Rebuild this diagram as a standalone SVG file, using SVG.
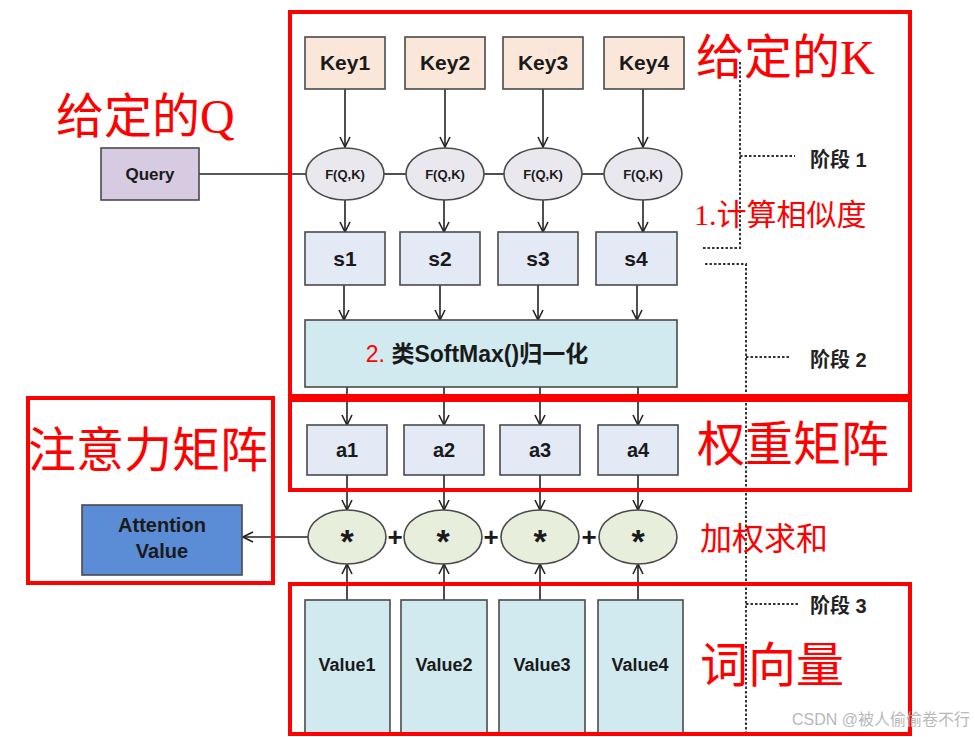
<svg xmlns="http://www.w3.org/2000/svg" width="975" height="737" viewBox="0 0 975 737">
<defs>
<marker id="arr" viewBox="0 0 12 12" refX="11" refY="6" markerWidth="12" markerHeight="12" markerUnits="userSpaceOnUse" orient="auto">
<path d="M1,1 L11,6 L1,11" fill="none" stroke="#222" stroke-width="1.6"/>
</marker>
<style>
.box{stroke:#4a4a4a;stroke-width:1.6}
.key{fill:#fbe7d9}
.sb{fill:#e3e9f5}
.cy{fill:#d0eaef}
.fe{fill:#e9e8ef;stroke:#4a4a4a;stroke-width:1.6}
.me{fill:#e7eedb;stroke:#4a4a4a;stroke-width:1.6}
.t{font-family:"Liberation Sans","Noto Sans CJK SC",sans-serif;font-weight:bold;fill:#1a1a1a;text-anchor:middle;dominant-baseline:central}
.red{fill:none;stroke:#ff0000;stroke-width:4}
.rt{font-family:"Liberation Serif","Noto Sans CJK SC",serif;fill:#ff0000}
.ln{stroke:#222;stroke-width:1.6;fill:none}
.dot{stroke:#333;stroke-width:2;stroke-dasharray:2.5 2;fill:none}
.st{font-family:"Liberation Sans","Noto Sans CJK SC",sans-serif;font-weight:bold;fill:#222;font-size:20px}
</style>
</defs>
<rect width="975" height="737" fill="#ffffff"/>

<g id="connectors">
<line class="ln" x1="345" y1="89" x2="345" y2="147" marker-end="url(#arr)"/>
<line class="ln" x1="445" y1="89" x2="445" y2="147" marker-end="url(#arr)"/>
<line class="ln" x1="543" y1="89" x2="543" y2="147" marker-end="url(#arr)"/>
<line class="ln" x1="643" y1="89" x2="643" y2="147" marker-end="url(#arr)"/>
<line class="ln" x1="199" y1="174" x2="306" y2="174"/>
<line class="ln" x1="384" y1="174" x2="406" y2="174"/>
<line class="ln" x1="484" y1="174" x2="504" y2="174"/>
<line class="ln" x1="582" y1="174" x2="604" y2="174"/>
<line class="ln" x1="345" y1="200" x2="345" y2="232" marker-end="url(#arr)"/>
<line class="ln" x1="444" y1="200" x2="444" y2="232" marker-end="url(#arr)"/>
<line class="ln" x1="543" y1="200" x2="543" y2="232" marker-end="url(#arr)"/>
<line class="ln" x1="643" y1="200" x2="643" y2="232" marker-end="url(#arr)"/>
<line class="ln" x1="344" y1="285" x2="344" y2="320" marker-end="url(#arr)"/>
<line class="ln" x1="440" y1="285" x2="440" y2="320" marker-end="url(#arr)"/>
<line class="ln" x1="538" y1="285" x2="538" y2="320" marker-end="url(#arr)"/>
<line class="ln" x1="637" y1="285" x2="637" y2="320" marker-end="url(#arr)"/>
<line class="ln" x1="347" y1="387" x2="347" y2="425" marker-end="url(#arr)"/>
<line class="ln" x1="444" y1="387" x2="444" y2="425" marker-end="url(#arr)"/>
<line class="ln" x1="540" y1="387" x2="540" y2="425" marker-end="url(#arr)"/>
<line class="ln" x1="638" y1="387" x2="638" y2="425" marker-end="url(#arr)"/>
<line class="ln" x1="347" y1="475" x2="347" y2="510" marker-end="url(#arr)"/>
<line class="ln" x1="444" y1="475" x2="444" y2="510" marker-end="url(#arr)"/>
<line class="ln" x1="540" y1="475" x2="540" y2="510" marker-end="url(#arr)"/>
<line class="ln" x1="638" y1="475" x2="638" y2="510" marker-end="url(#arr)"/>
<line class="ln" x1="347" y1="600" x2="347" y2="564" marker-end="url(#arr)"/>
<line class="ln" x1="444" y1="600" x2="444" y2="564" marker-end="url(#arr)"/>
<line class="ln" x1="540" y1="600" x2="540" y2="564" marker-end="url(#arr)"/>
<line class="ln" x1="638" y1="600" x2="638" y2="564" marker-end="url(#arr)"/>
<line class="ln" x1="308" y1="537" x2="243" y2="537" marker-end="url(#arr)"/>
<path class="dot" d="M740,62 L740,248 L702,248"/>
<path class="dot" d="M740,156 L795,156"/>
<path class="dot" d="M705,264 L746,264 L746,735"/>
<path class="dot" d="M746,357 L790,357"/>
<path class="dot" d="M746,604 L800,604"/>
</g>

<g id="keys">
<g id="key1"><rect class="box key" x="305" y="37" width="80" height="52"/><text class="t" x="345" y="62" font-size="21">Key1</text></g>
<g id="key2"><rect class="box key" x="405" y="37" width="80" height="52"/><text class="t" x="445" y="62" font-size="21">Key2</text></g>
<g id="key3"><rect class="box key" x="503" y="37" width="80" height="52"/><text class="t" x="543" y="62" font-size="21">Key3</text></g>
<g id="key4"><rect class="box key" x="604" y="37" width="80" height="52"/><text class="t" x="644" y="62" font-size="21">Key4</text></g>
</g>

<g id="query"><rect class="box" fill="#d7cbe2" x="101" y="148" width="98" height="52"/><text class="t" x="150" y="174" font-size="17">Query</text></g>

<g id="f-nodes">
<g id="f1"><ellipse class="fe" cx="345" cy="174" rx="39" ry="26"/><text class="t" x="345" y="174" font-size="13">F(Q,K)</text></g>
<g id="f2"><ellipse class="fe" cx="445" cy="174" rx="39" ry="26"/><text class="t" x="445" y="174" font-size="13">F(Q,K)</text></g>
<g id="f3"><ellipse class="fe" cx="543" cy="174" rx="39" ry="26"/><text class="t" x="543" y="174" font-size="13">F(Q,K)</text></g>
<g id="f4"><ellipse class="fe" cx="643" cy="174" rx="39" ry="26"/><text class="t" x="643" y="174" font-size="13">F(Q,K)</text></g>
</g>

<g id="s-nodes">
<g id="s1"><rect class="box sb" x="305" y="232" width="80" height="53"/><text class="t" x="345" y="258" font-size="21">s1</text></g>
<g id="s2"><rect class="box sb" x="400" y="232" width="80" height="53"/><text class="t" x="440" y="258" font-size="21">s2</text></g>
<g id="s3"><rect class="box sb" x="498" y="232" width="80" height="53"/><text class="t" x="538" y="258" font-size="21">s3</text></g>
<g id="s4"><rect class="box sb" x="596" y="232" width="81" height="53"/><text class="t" x="636" y="258" font-size="21">s4</text></g>
</g>

<g id="softmax"><rect class="box cy" x="305" y="320" width="372" height="67"/><text class="t" x="477" y="354" font-size="23"><tspan fill="#ff0000" font-weight="normal">2.</tspan> 类SoftMax()归一化</text></g>

<g id="a-nodes">
<g id="a1"><rect class="box sb" x="307" y="425" width="80" height="50"/><text class="t" x="347" y="450" font-size="20">a1</text></g>
<g id="a2"><rect class="box sb" x="404" y="425" width="80" height="50"/><text class="t" x="444" y="450" font-size="20">a2</text></g>
<g id="a3"><rect class="box sb" x="500" y="425" width="80" height="50"/><text class="t" x="540" y="450" font-size="20">a3</text></g>
<g id="a4"><rect class="box sb" x="598" y="425" width="80" height="50"/><text class="t" x="638" y="450" font-size="20">a4</text></g>
</g>

<g id="mul-nodes">
<g id="m1"><ellipse class="me" cx="347" cy="537" rx="39" ry="27"/><text class="t" x="347" y="541" font-size="34">*</text></g>
<g id="m2"><ellipse class="me" cx="443" cy="537" rx="39" ry="27"/><text class="t" x="443" y="541" font-size="34">*</text></g>
<g id="m3"><ellipse class="me" cx="540" cy="537" rx="39" ry="27"/><text class="t" x="540" y="541" font-size="34">*</text></g>
<g id="m4"><ellipse class="me" cx="638" cy="537" rx="39" ry="27"/><text class="t" x="638" y="541" font-size="34">*</text></g>
<text class="t" x="395" y="537" font-size="26">+</text>
<text class="t" x="491" y="537" font-size="26">+</text>
<text class="t" x="589" y="537" font-size="26">+</text>
</g>

<g id="attention"><rect class="box" fill="#5b8cd6" x="82" y="505" width="160" height="70"/><text class="t" x="162" y="525" font-size="20" fill="#0f1a2e">Attention</text><text class="t" x="162" y="551" font-size="20">Value</text></g>

<g id="values">
<g id="v1"><rect class="box cy" x="305" y="600" width="85" height="135"/><text class="t" x="347" y="665" font-size="18">Value1</text></g>
<g id="v2"><rect class="box cy" x="401" y="600" width="86" height="135"/><text class="t" x="444" y="665" font-size="18">Value2</text></g>
<g id="v3"><rect class="box cy" x="499" y="600" width="86" height="135"/><text class="t" x="542" y="665" font-size="18">Value3</text></g>
<g id="v4"><rect class="box cy" x="598" y="600" width="85" height="135"/><text class="t" x="640" y="665" font-size="18">Value4</text></g>
</g>

<g id="stages">
<text class="st" x="810" y="167">阶段 1</text>
<text class="st" x="810" y="367">阶段 2</text>
<text class="st" x="810" y="613">阶段 3</text>
</g>

<g id="annotations">
<rect class="red" x="290" y="12" width="620" height="384"/>
<rect class="red" x="290" y="400" width="620" height="90"/>
<rect class="red" x="28" y="398" width="245" height="185"/>
<rect class="red" x="290" y="584" width="620" height="150"/>
<text class="rt" x="696" y="74" font-size="48">给定的K</text>
<text class="rt" x="56" y="133" font-size="48">给定的Q</text>
<text class="rt" x="694" y="225" font-size="30">1.计算相似度</text>
<text class="rt" x="697" y="461" font-size="48">权重矩阵</text>
<text class="rt" x="28" y="467" font-size="48">注意力矩阵</text>
<text class="rt" x="700" y="550" font-size="32">加权求和</text>
<text class="rt" x="700" y="682" font-size="48">词向量</text>
</g>

<text x="970" y="725" text-anchor="end" font-family="Liberation Sans,'Noto Sans CJK SC',sans-serif" font-size="16" fill="#b8b8b8">CSDN @被人偷偷卷不行</text>
</svg>
